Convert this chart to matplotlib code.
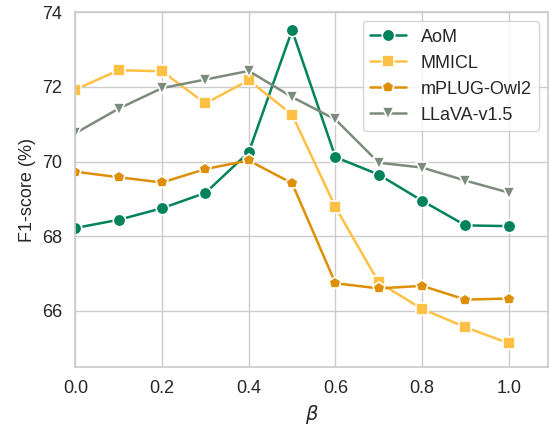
import matplotlib
matplotlib.use("Agg")
import matplotlib.pyplot as plt
import seaborn as sns

# ---------- data ----------
BETA = [0.0, 0.1, 0.2, 0.3, 0.4, 0.5, 0.6, 0.7, 0.8, 0.9, 1.0]
AOM = [68.22, 68.44, 68.75, 69.16, 70.25, 73.52, 70.12, 69.65, 68.95, 68.29, 68.27]
MMICL = [71.93, 72.45, 72.42, 71.56, 72.18, 71.26, 68.78, 66.76, 66.05, 65.56, 65.13]
MPLUG = [69.73, 69.58, 69.44, 69.80, 70.03, 69.42, 66.74, 66.60, 66.67, 66.30, 66.33]
LLAVA = [70.76, 71.42, 71.97, 72.20, 72.43, 71.73, 71.13, 69.97, 69.84, 69.49, 69.17]

SERIES = [
    ("AoM", AOM, "#00835B", "o"),
    ("MMICL", MMICL, "#FFC145", "s"),
    ("mPLUG-Owl2", MPLUG, "#DE8F05", "p"),
    ("LLaVA-v1.5", LLAVA, "#7C8C7C", "v"),
]

sns.set_theme(style="whitegrid")
plt.rcParams['font.family'] = ['Liberation Sans', 'DejaVu Sans']

fig = plt.figure(figsize=(5.5, 4.26), dpi=100)
ax = fig.add_axes([0.137, 0.139, 0.859, 0.832])

for name, vals, color, marker in SERIES:
    ax.plot(BETA, vals, color=color, marker=marker, lw=1.8, ms=9,
            mec="white", mew=1.2, label=name)

ax.set_xlim(0, 1.09)
ax.set_ylim(64.5, 74)
ax.set_xticks([0.0, 0.2, 0.4, 0.6, 0.8, 1.0])
ax.set_yticks([66, 68, 70, 72, 74])
ax.tick_params(labelsize=13)
ax.set_xlabel(r"$\beta$", fontsize=14)
ax.set_ylabel("F1-score (%)", fontsize=13)
ax.legend(loc="upper right", fontsize=13, frameon=True)

fig.savefig("out.png", dpi=100)
